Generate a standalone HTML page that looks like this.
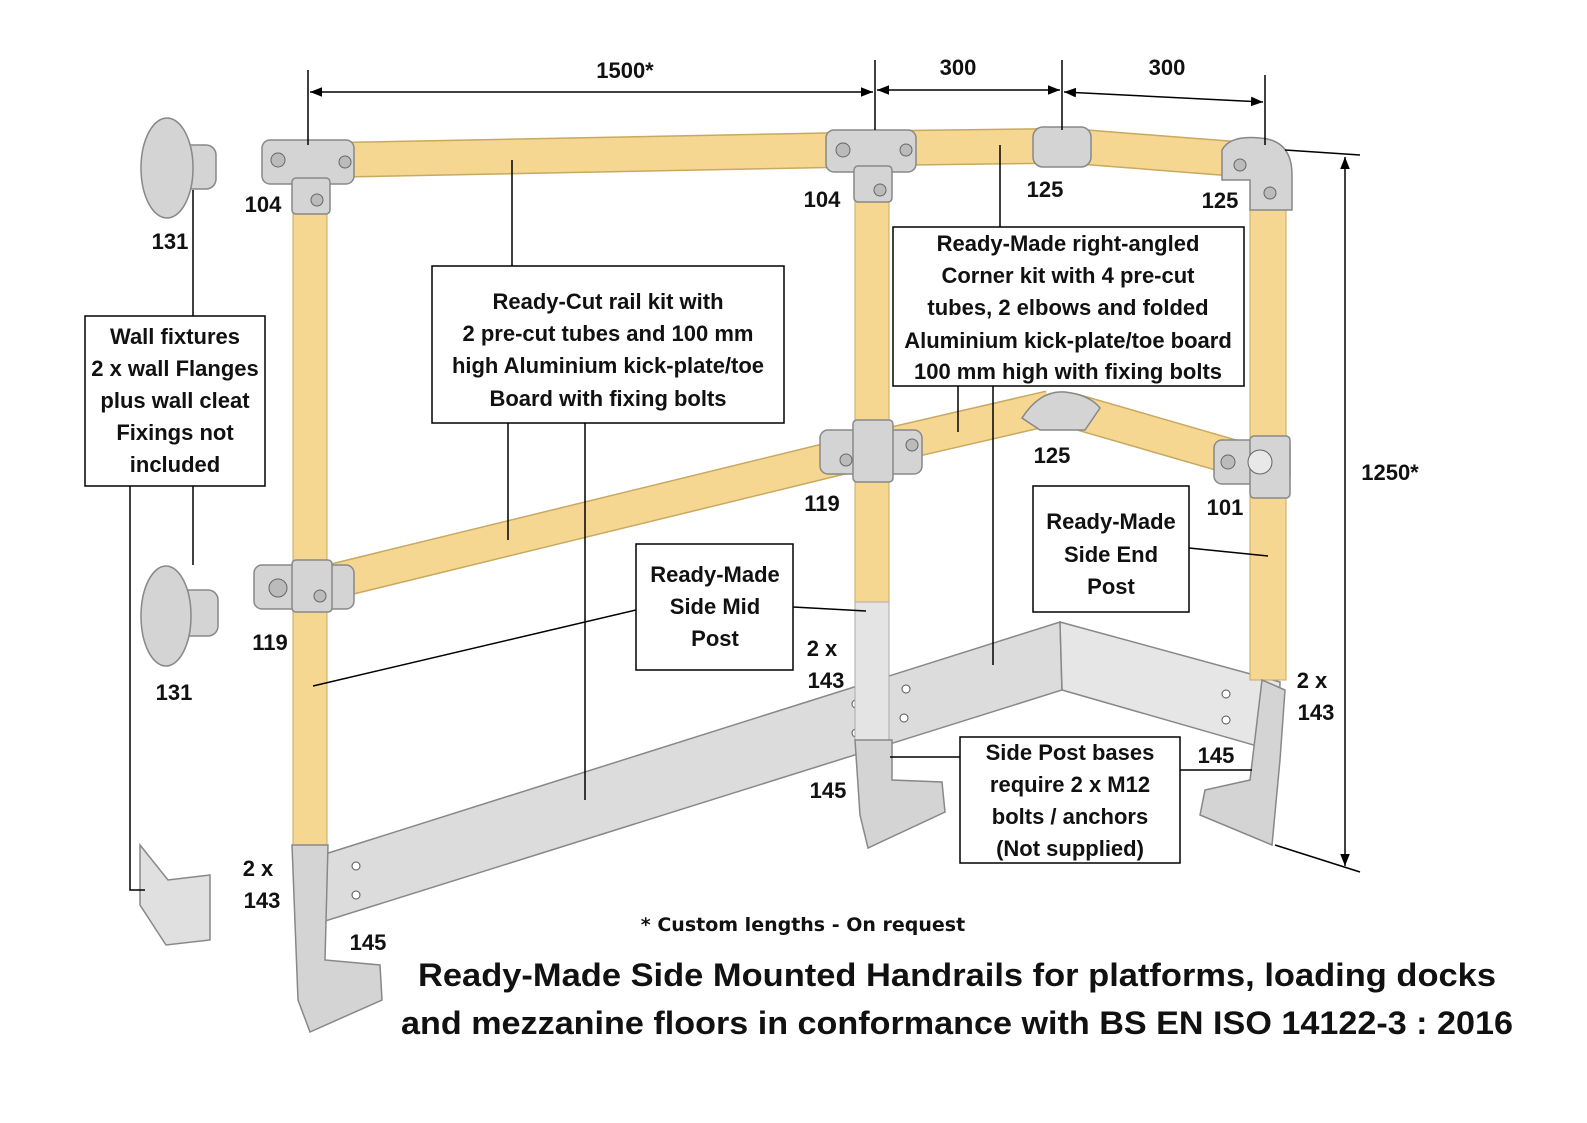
<!DOCTYPE html>
<html><head><meta charset="utf-8"><style>
html,body{margin:0;padding:0;background:#fff;}
svg{display:block;}
text{font-family:"Liberation Sans",sans-serif;font-weight:bold;fill:#111;}
</style></head><body>
<svg width="1587" height="1123" viewBox="0 0 1587 1123" xmlns="http://www.w3.org/2000/svg">
<defs>
<marker id="a" viewBox="0 0 10 10" refX="10" refY="5" markerWidth="8" markerHeight="8" orient="auto-start-reverse"><path d="M0,1 L10,5 L0,9 z" fill="#000"/></marker>
</defs>
<g stroke-linecap="butt">
<!-- kick plates -->
<polygon points="322,855 1060,622 1062,690 322,922" fill="#dcdcdc" stroke="#888" stroke-width="1.5"/>
<polygon points="1060,622 1280,682 1278,752 1062,690" fill="#e6e6e6" stroke="#888" stroke-width="1.5"/>
<line x1="880" y1="680" x2="880" y2="745" stroke="#888"/>
<g fill="#fff" stroke="#555"><circle cx="356" cy="866" r="4"/><circle cx="356" cy="895" r="4"/><circle cx="856" cy="704" r="4"/><circle cx="856" cy="733" r="4"/><circle cx="906" cy="689" r="4"/><circle cx="904" cy="718" r="4"/><circle cx="1226" cy="694" r="4"/><circle cx="1226" cy="720" r="4"/></g>
<!-- posts -->
<g stroke="#c9a860" stroke-width="1">
<rect x="293" y="160" width="34" height="700" fill="#f6d792"/>
<rect x="855" y="150" width="34" height="452" fill="#f6d792"/>
<rect x="1250" y="160" width="36" height="520" fill="#f6d792"/>
</g>
<rect x="855" y="602" width="34" height="138" fill="#e4e4e4" stroke="#aaa"/>
<!-- rails -->
<g stroke-linecap="butt">
<line x1="330" y1="160" x2="840" y2="150" stroke="#c9a860" stroke-width="36"/>
<line x1="330" y1="160" x2="840" y2="150" stroke="#f6d792" stroke-width="33"/>
<line x1="890" y1="148" x2="1050" y2="146" stroke="#c9a860" stroke-width="36"/>
<line x1="890" y1="148" x2="1050" y2="146" stroke="#f6d792" stroke-width="33"/>
<line x1="1070" y1="146" x2="1250" y2="160" stroke="#c9a860" stroke-width="36"/>
<line x1="1070" y1="146" x2="1250" y2="160" stroke="#f6d792" stroke-width="33"/>
<line x1="330" y1="582" x2="850" y2="455" stroke="#c9a860" stroke-width="36"/>
<line x1="330" y1="582" x2="850" y2="455" stroke="#f6d792" stroke-width="33"/>
<line x1="890" y1="445" x2="1050" y2="408" stroke="#c9a860" stroke-width="36"/>
<line x1="890" y1="445" x2="1050" y2="408" stroke="#f6d792" stroke-width="33"/>
<line x1="1070" y1="410" x2="1250" y2="462" stroke="#c9a860" stroke-width="36"/>
<line x1="1070" y1="410" x2="1250" y2="462" stroke="#f6d792" stroke-width="33"/>
</g>
<!-- fittings -->
<g fill="#d4d4d4" stroke="#888" stroke-width="1.5">
<rect x="262" y="140" width="92" height="44" rx="8"/><rect x="292" y="178" width="38" height="36" rx="4"/>
<rect x="826" y="130" width="90" height="42" rx="8"/><rect x="854" y="166" width="38" height="36" rx="4"/>
<rect x="1033" y="127" width="58" height="40" rx="10"/>
<path d="M1222,150 Q1230,135 1260,138 Q1292,140 1292,175 L1292,210 L1250,210 L1250,180 L1222,180 z"/>
<rect x="254" y="565" width="100" height="44" rx="8"/><rect x="292" y="560" width="40" height="52" rx="4"/>
<rect x="820" y="430" width="102" height="44" rx="8"/><rect x="853" y="420" width="40" height="62" rx="4"/>
<path d="M1022,418 Q1040,390 1065,392 Q1090,395 1100,408 L1085,430 L1040,430 z"/>
<rect x="1214" y="440" width="76" height="44" rx="8"/><rect x="1250" y="436" width="40" height="62" rx="4"/>
<!-- bases -->
<path d="M292,845 L328,845 L325,960 L380,965 L382,1000 L310,1032 L298,1000 z"/>
<path d="M855,740 L892,740 L892,780 L942,782 L945,812 L868,848 L860,815 z"/>
<path d="M1262,680 L1285,690 L1280,760 L1272,845 L1200,815 L1205,790 L1250,780 z"/>
<!-- wall flanges -->
<rect x="170" y="145" width="46" height="44" rx="10"/>
<ellipse cx="167" cy="168" rx="26" ry="50"/>
<rect x="170" y="590" width="48" height="46" rx="10"/>
<ellipse cx="166" cy="616" rx="25" ry="50"/>
<path d="M140,845 L168,880 L210,875 L210,940 L166,945 L140,905 z" fill="#e0e0e0"/>
</g>
<g fill="#bbb" stroke="#666"><circle cx="278" cy="160" r="7"/><circle cx="345" cy="162" r="6"/><circle cx="317" cy="200" r="6"/><circle cx="843" cy="150" r="7"/><circle cx="906" cy="150" r="6"/><circle cx="880" cy="190" r="6"/><circle cx="1240" cy="165" r="6"/><circle cx="1270" cy="193" r="6"/><circle cx="278" cy="588" r="9"/><circle cx="320" cy="596" r="6"/><circle cx="846" cy="460" r="6"/><circle cx="912" cy="445" r="6"/><circle cx="1228" cy="462" r="7"/><circle cx="1260" cy="462" r="12" fill="#e8e8e8"/></g>
</g>
<!-- dimension lines -->
<g stroke="#000" stroke-width="1.5" fill="none">
<line x1="308" y1="70" x2="308" y2="145"/><line x1="875" y1="60" x2="875" y2="130"/><line x1="1062" y1="60" x2="1062" y2="130"/><line x1="1265" y1="75" x2="1265" y2="145"/>
<line x1="310" y1="92" x2="873" y2="92" marker-start="url(#a)" marker-end="url(#a)"/>
<line x1="877" y1="90" x2="1060" y2="90" marker-start="url(#a)" marker-end="url(#a)"/>
<line x1="1064" y1="92" x2="1263" y2="102" marker-start="url(#a)" marker-end="url(#a)"/>
<line x1="1345" y1="157" x2="1345" y2="866" marker-start="url(#a)" marker-end="url(#a)"/>
<line x1="1285" y1="150" x2="1360" y2="155"/><line x1="1275" y1="845" x2="1360" y2="872"/>
<!-- connectors -->
<line x1="512" y1="160" x2="512" y2="266"/><line x1="508" y1="423" x2="508" y2="540"/><line x1="585" y1="423" x2="585" y2="800"/>
<line x1="1000" y1="145" x2="1000" y2="227"/><line x1="958" y1="386" x2="958" y2="432"/><line x1="993" y1="386" x2="993" y2="665"/>
<line x1="636" y1="610" x2="313" y2="686"/><line x1="793" y1="607" x2="866" y2="611"/><line x1="1189" y1="548" x2="1268" y2="556"/>
<line x1="960" y1="757" x2="890" y2="757"/><line x1="1180" y1="770" x2="1252" y2="770"/>
<line x1="193" y1="190" x2="193" y2="316"/><line x1="193" y1="486" x2="193" y2="565"/><polyline points="130,486 130,890 145,890"/>
</g>
<!-- boxes -->
<g fill="#fff" stroke="#000" stroke-width="1.5">
<rect x="85" y="316" width="180" height="170"/>
<rect x="432" y="266" width="352" height="157"/>
<rect x="893" y="227" width="351" height="159"/>
<rect x="636" y="544" width="157" height="126"/>
<rect x="1033" y="486" width="156" height="126"/>
<rect x="960" y="737" width="220" height="126"/>
</g>
<g font-size="22" text-anchor="middle">
<text x="175" y="344">Wall fixtures</text><text x="175" y="376">2 x wall Flanges</text><text x="175" y="408">plus wall cleat</text><text x="175" y="440">Fixings not</text><text x="175" y="472">included</text>
<text x="608" y="309">Ready-Cut rail kit with</text><text x="608" y="341">2 pre-cut tubes and 100 mm</text><text x="608" y="373">high Aluminium kick-plate/toe</text><text x="608" y="406">Board  with fixing bolts</text>
<text x="1068" y="251">Ready-Made right-angled</text><text x="1068" y="283">Corner kit with 4 pre-cut</text><text x="1068" y="315">tubes, 2 elbows and folded</text><text x="1068" y="348">Aluminium kick-plate/toe board</text><text x="1068" y="379">100 mm high with fixing bolts</text>
<text x="715" y="582">Ready-Made</text><text x="715" y="614">Side Mid</text><text x="715" y="646">Post</text>
<text x="1111" y="529">Ready-Made</text><text x="1111" y="562">Side End</text><text x="1111" y="594">Post</text>
<text x="1070" y="760">Side Post bases</text><text x="1070" y="792">require 2 x M12</text><text x="1070" y="824">bolts / anchors</text><text x="1070" y="856">(Not supplied)</text>
<text x="625" y="78">1500*</text><text x="958" y="75">300</text><text x="1167" y="75">300</text><text x="1390" y="480">1250*</text>
<text x="263" y="212">104</text><text x="822" y="207">104</text><text x="1045" y="197">125</text><text x="1220" y="208">125</text><text x="1052" y="463">125</text>
<text x="822" y="511">119</text><text x="270" y="650">119</text><text x="1225" y="515">101</text><text x="170" y="249">131</text><text x="174" y="700">131</text>
<text x="822" y="656">2 x</text><text x="826" y="688">143</text><text x="828" y="798">145</text>
<text x="1312" y="688">2 x</text><text x="1316" y="720">143</text><text x="1216" y="763">145</text>
<text x="258" y="876">2 x</text><text x="262" y="908">143</text><text x="368" y="950">145</text>
</g>
<text x="803" y="931" font-size="19" text-anchor="middle" style="font-family:'DejaVu Sans',sans-serif">* Custom lengths - On request</text>
<text x="957" y="986" font-size="32" textLength="1078" lengthAdjust="spacingAndGlyphs" text-anchor="middle">Ready-Made Side Mounted Handrails for platforms, loading docks</text>
<text x="957" y="1034" font-size="32" textLength="1112" lengthAdjust="spacingAndGlyphs" text-anchor="middle">and mezzanine floors in conformance with BS EN ISO 14122-3 : 2016</text>
</svg>
</body></html>
